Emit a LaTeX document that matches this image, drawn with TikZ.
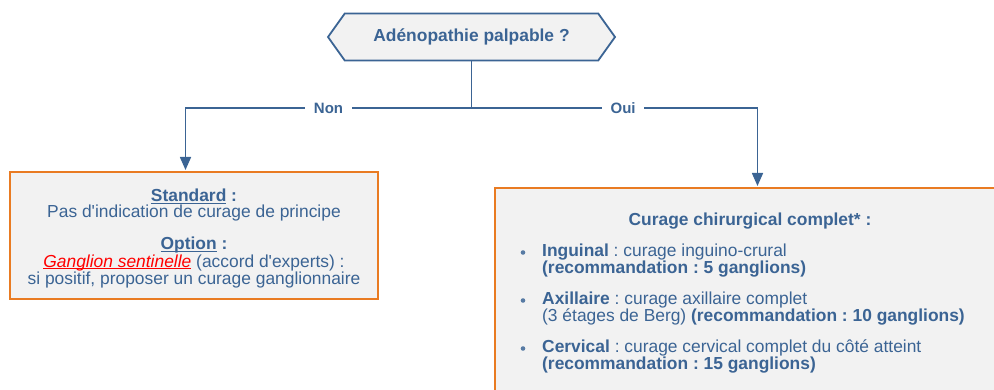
\documentclass[tikz,border=0pt]{standalone}
\usepackage{fontspec}
\setmainfont{Liberation Sans}
\usetikzlibrary{arrows.meta,positioning,shapes.symbols}
\definecolor{inkblue}{HTML}{3B6494}
\definecolor{boxorange}{HTML}{E97B22}
\definecolor{boxfill}{HTML}{F2F2F2}
\definecolor{linkred}{HTML}{FF0000}
\frenchspacing
\newcommand{\bodyfont}{\fontsize{17.4}{16}\selectfont}
\newcommand{\q}{\textquotesingle}
\newsavebox{\ulinebox}
\newcommand{\under}[1]{\sbox{\ulinebox}{#1}\rlap{\usebox{\ulinebox}}\rule[-2.2pt]{\wd\ulinebox}{1.1pt}}
\tikzset{
    question/.style={shape=signal,signal to=west and east,signal pointer angle=109,draw=inkblue,line width=1.8pt,fill=boxfill,minimum width=287pt,minimum height=47pt,inner sep=0pt,text=inkblue,font=\bodyfont\bfseries},
    optbox/.style={rectangle,draw=boxorange,line width=2.4pt,fill=boxfill,inner sep=0pt},
    flow/.style={-{Triangle[width=11pt,length=13pt]},draw=inkblue,line width=1.6pt},
    wire/.style={-,draw=inkblue,line width=1.6pt},
    answer/.style={fill=white,inner xsep=8.5pt,inner ysep=2pt,text=inkblue,font=\fontsize{15}{15}\selectfont\bfseries},
    boxtext/.style={text=inkblue,font=\bodyfont,inner sep=0pt},
    itemtext/.style={boxtext,align=left,anchor=base west},
    dot/.style={circle,fill=inkblue!85,inner sep=0pt,minimum size=4.6pt}
}
\begin{document}
\begin{tikzpicture}[x=1pt,y=-1pt]
    \useasboundingbox (0,0) rectangle (994,390);

    % question
    \node[question] (question) at (471.5,37) {Adénopathie palpable ?};

    % answer boxes
    \node[optbox,minimum width=368pt,minimum height=127pt] (non box) at (194,235.5) {};
    \node[boxtext,align=center] (non text) at (194,238.5)
        {\textbf{\under{Standard} :}\\
         Pas d\q indication de curage de principe\\[15pt]
         \textbf{\under{Option} :}\\
         \textcolor{linkred}{\under{\textit{Ganglion sentinelle}}} (accord d\q experts) :\\
         si positif, proposer un curage ganglionnaire};

    \node[optbox,minimum width=512pt,minimum height=240pt] (oui box) at (751,308) {};
    \node[boxtext,font=\bodyfont\bfseries,anchor=base] (oui title) at (750,226) {Curage chirurgical complet* :};

    % last line sits on the base anchor
    \node[itemtext] (inguinal) at (542,273.5)
        {\textbf{Inguinal} : curage inguino-crural\\ \textbf{(recommandation : 5 ganglions)}};
    \node[itemtext] (axillaire) at (542,321.5)
        {\textbf{Axillaire} : curage axillaire complet\\ (3 étages de Berg) \textbf{(recommandation : 10 ganglions)}};
    \node[itemtext] (cervical) at (542,369.5)
        {\textbf{Cervical} : curage cervical complet du côté atteint\\ \textbf{(recommandation : 15 ganglions)}};

    \node[dot] (dot 1) at (523,252.5) {};
    \node[dot] (dot 2) at (523,300.5) {};
    \node[dot] (dot 3) at (523,348.5) {};

    % connectors
    \coordinate (split)   at (471.5,108);
    \coordinate (non tip) at (185.5,170);
    \coordinate (oui tip) at (757.5,186);

    \draw[wire] (question.south) -- (split);
    \draw[flow] (split) -| node[answer,pos=0.25]  {Non} (non tip);
    \draw[flow] (split) -| node[answer,pos=0.265] {Oui} (oui tip);

\end{tikzpicture}
\end{document}
